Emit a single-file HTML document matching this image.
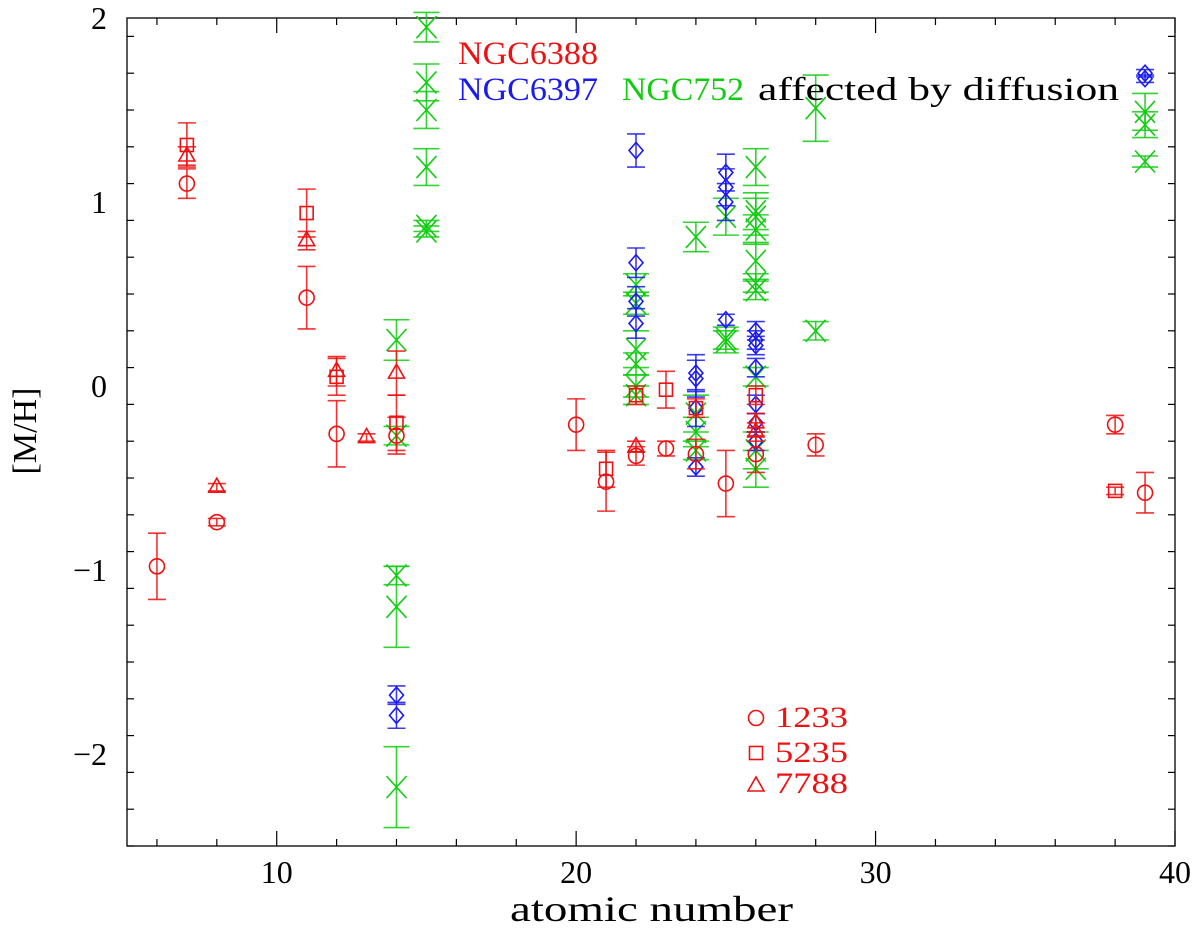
<!DOCTYPE html>
<html><head><meta charset="utf-8"><style>
body{margin:0;background:#fff;width:1200px;height:927px;overflow:hidden}
svg text{font-family:"Liberation Serif",serif}
</style></head><body>
<svg id="chart" width="1200" height="927" viewBox="0 0 1200 927">
<g id="axes"></g><g id="marks"></g><g id="legend"></g>
</svg>
<script>
// data: [atomic number, [M/H], error]
const ngc6388Circles=[[6,-0.98,.18],[7,1.10,.08],[8,-0.74,.02],[11,0.48,.17],[12,-0.26,.18],[14,-0.27,.1],[20,-0.21,.14],[21,-0.52,.16],[22,-0.38,.05],[23,-0.34,.04],[24,-0.37,.08],[25,-0.53,.18],[26,-0.37,.1],[28,-0.32,.06],[38,-0.21,.05],[39,-0.58,.11]];
const ngc6388Squares=[[7,1.31,.12],[11,0.94,.13],[12,0.05,.1],[14,-0.2,.15],[21,-0.45,.1],[22,-0.05,.05],[23,-0.02,.1],[24,-0.12,.05],[26,-0.05,.05],[38,-0.57,.02]];
const ngc6388Triangles=[[7,1.25,.05],[8,-0.55,.02],[11,0.79,.05],[12,0.08,.08],[13,-0.28,.02],[14,0.07,.12],[22,-0.33,.03],[26,-0.2,.05],[26,-0.25,.05]];
const ngc6397Diamonds=[[14,-1.68,.05],[14,-1.79,.07],[22,1.28,.09],[22,0.67,.08],[22,0.46,.08],[22,0.34,.08],[24,0.07,.1],[24,0.04,.1],[24,-0.12,.1],[24,-0.44,.05],[25,1.16,.1],[25,1.08,.1],[25,1.0,.1],[25,0.36,.03],[26,0.3,.05],[26,0.25,.05],[26,0.22,.05],[26,0.1,.05],[26,-0.1,.05],[26,-0.2,.05],[26,-0.3,.05],[39,1.70,.02],[39,1.67,.02]];
const ngc752Crosses=[[14,0.25,.11],[14,-0.27,.05],[14,-1.03,.05],[14,-1.2,.22],[14,-2.18,.22],[15,1.95,.08],[15,1.65,.1],[15,1.5,.1],[15,1.19,.1],[15,0.87,.03],[15,0.84,.03],[22,0.55,.06],[22,0.45,.06],[22,0.2,.1],[22,0.12,.06],[22,0.0,.06],[22,-0.05,.05],[24,0.81,.08],[24,-0.15,.1],[24,-0.25,.08],[24,-0.35,.05],[25,0.92,.1],[25,0.26,.06],[25,0.24,.06],[26,1.19,.1],[26,0.95,.1],[26,0.92,.1],[26,0.85,.08],[26,0.68,.1],[26,0.56,.05],[26,0.52,.05],[26,0.05,.05],[26,-0.35,.1],[26,-0.45,.1],[28,1.51,.18],[28,0.30,.05],[39,1.49,.1],[39,1.42,.07],[39,1.22,.03]];
const xTicks=[10,20,30,40];
const yTicks=[-2,-1,0,1,2];

const L=127,R=1175,T=18,B=846,X0=5,X1=40,Y0=-2.5,Y1=2;
const sx=v=>L+(v-X0)/(X1-X0)*(R-L);
const sy=v=>B-(v-Y0)/(Y1-Y0)*(B-T);
const NS='http://www.w3.org/2000/svg';
function mk(tag,attrs,parent){const e=document.createElementNS(NS,tag);for(const k in attrs)e.setAttribute(k,attrs[k]);parent.appendChild(e);return e;}
const axes=document.getElementById('axes'),marks=document.getElementById('marks'),legend=document.getElementById('legend');

const frame=mk('rect',{x:L,y:T,width:R-L,height:B-T,fill:'none',stroke:'#000','stroke-width':1.3},axes);


for(let v=6;v<=40;v+=2){const x=sx(v),len=(v%10===0)?15:7;
 mk('line',{x1:x,y1:B,x2:x,y2:B-len,stroke:'#000','stroke-width':1.2},axes);
 mk('line',{x1:x,y1:T,x2:x,y2:T+len,stroke:'#000','stroke-width':1.2},axes);}
for(let i=-25;i<=20;i+=2){const v=i/10,y=sy(v),len=(i%10===0)?15:7;
 mk('line',{x1:L,y1:y,x2:L+len,y2:y,stroke:'#000','stroke-width':1.2},axes);
 mk('line',{x1:R,y1:y,x2:R-len,y2:y,stroke:'#000','stroke-width':1.2},axes);}
xTicks.forEach(v=>{const t=mk('text',{x:sx(v),y:883,'text-anchor':'middle','font-size':32,fill:'#000'},axes);t.textContent=v;
 
 });
yTicks.forEach(v=>{const t=mk('text',{x:107,y:sy(v)+11,'text-anchor':'end','font-size':32,fill:'#000'},axes);t.textContent=(v<0?'\u2212'+(-v):v);
 
 });
const xt=mk('text',{x:510,y:921,'font-size':36,fill:'#000',textLength:283,lengthAdjust:'spacingAndGlyphs'},axes);xt.textContent='atomic number';


const yt=mk('text',{x:0,y:0,'text-anchor':'middle','font-size':34,fill:'#000',transform:'translate(36,431) rotate(-90)'},axes);yt.textContent='[M/H]';



function sym(g,type,x,y,c){
 const a={fill:'none',stroke:c,'stroke-width':1.6};
 if(type==='circle')mk('circle',Object.assign({cx:x,cy:y,r:7.5},a),g);
 else if(type==='square')mk('rect',Object.assign({x:x-6.5,y:y-6.5,width:13,height:13},a),g);
 else if(type==='triangle')mk('polygon',Object.assign({points:`${x},${y-9} ${x-8},${y+5} ${x+8},${y+5}`},a),g);
 else if(type==='diamond')mk('polygon',Object.assign({points:`${x},${y-8} ${x+7},${y} ${x},${y+8} ${x-7},${y}`},a),g);
 else {mk('line',Object.assign({x1:x-10,y1:y-11,x2:x+10,y2:y+11},a),g);mk('line',Object.assign({x1:x-10,y1:y+11,x2:x+10,y2:y-11},a),g);}
}
function series(data,type,c,cap,name){
 data.forEach(d=>{const g=mk('g',{},marks);
  
  
  const x=sx(d[0]),y=sy(d[1]),y1=sy(d[1]+d[2]),y2=sy(d[1]-d[2]);
  const s={stroke:c,'stroke-width':1.6,opacity:0.85};
  mk('line',Object.assign({x1:x,y1:y1,x2:x,y2:y2},s),g);
  mk('line',Object.assign({x1:x-cap,y1:y1,x2:x+cap,y2:y1},s),g);
  mk('line',Object.assign({x1:x-cap,y1:y2,x2:x+cap,y2:y2},s),g);
  sym(g,type,x,y,c);});
}
series(ngc752Crosses,'cross','#11cc11',13,'ngc752-point');
series(ngc6397Diamonds,'diamond','#1a1aee',9,'ngc6397-point');
series(ngc6388Circles,'circle','#ee1111',9,'ngc6388-1233-point');
series(ngc6388Squares,'square','#ee1111',9,'ngc6388-5235-point');
series(ngc6388Triangles,'triangle','#ee1111',9,'ngc6388-7788-point');

function lt(txt,x,y,c,w,name){const t=mk('text',{x:x,y:y,'font-size':33,fill:c,textLength:w,lengthAdjust:'spacingAndGlyphs'},legend);t.textContent=txt;
 
 }
lt('NGC6388',458,64,'#ee1111',140,'legend-ngc6388');
lt('NGC6397',458,100,'#1a1aee',140,'legend-ngc6397');
lt('NGC752',622,100,'#11cc11',122,'legend-ngc752');
lt('affected by diffusion',758,100,'#000',361,'legend-diffusion-note');
[['circle','1233',718,727],['square','5235',753,762],['triangle','7788',786,793]].forEach(e=>{
 const g=mk('g',{},legend);
 
 
 sym(g,e[0],756,e[2],'#ee1111');
 const t=mk('text',{x:775,y:e[3],'font-size':30,fill:'#ee1111',textLength:73,lengthAdjust:'spacingAndGlyphs'},g);t.textContent=e[1];});
</script>
</body></html>
